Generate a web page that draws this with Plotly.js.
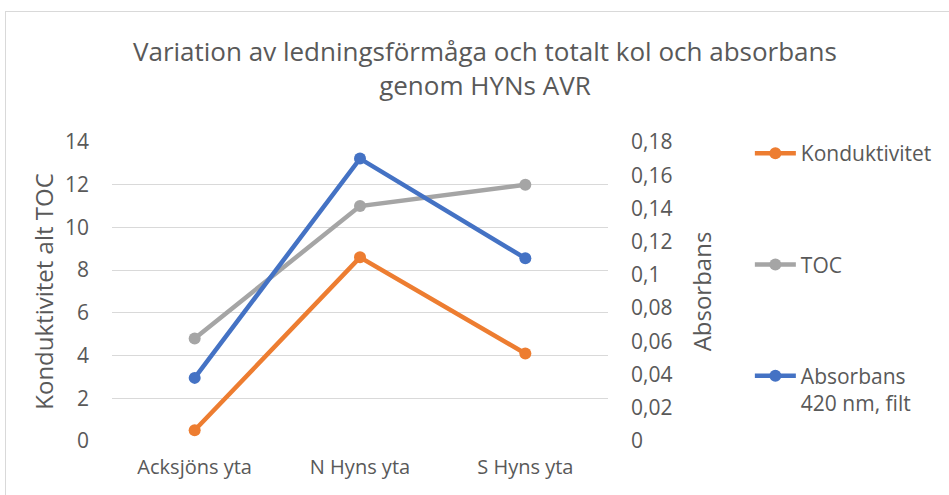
<!DOCTYPE html>
<html><head><meta charset="utf-8">
<script src="https://cdn.plot.ly/plotly-3.0.1.min.js"></script>
<style>
html,body{margin:0;padding:0;background:#fff;}
#wrap{position:relative;width:949px;height:495px;overflow:hidden;}
#frame{position:absolute;left:5px;top:11px;width:960px;height:500px;border:1px solid #D9D9D9;box-sizing:border-box;pointer-events:none;z-index:5;}
#chart{position:absolute;left:0;top:0;width:949px;height:495px;}
</style></head>
<body><div id="wrap"><div id="chart"></div><div id="frame"></div></div>
<script>
const categories = ["Acksjöns yta", "N Hyns yta", "S Hyns yta"];
const konduktivitet = [0.5, 8.6, 4.1];
const toc = [4.8, 11.0, 12.0];
const absorbans = [0.038, 0.170, 0.110];
const leftTicks = [0, 2, 4, 6, 8, 10, 12, 14];
const rightTicks = [0, 0.02, 0.04, 0.06, 0.08, 0.1, 0.12, 0.14, 0.16, 0.18];

const font = "'Open Sans', Lato, sans-serif";
const txt = "#595959";

const traces = [
  {x: categories, y: konduktivitet, name: "Konduktivitet", type: "scatter", mode: "lines+markers",
   line: {color: "#ED7D31", width: 4.5}, marker: {color: "#ED7D31", size: 12}, legendgroup: "a", yaxis: "y"},
  {x: categories, y: toc, name: "TOC", type: "scatter", mode: "lines+markers",
   line: {color: "#A5A5A5", width: 4.5}, marker: {color: "#A5A5A5", size: 12}, legendgroup: "b", yaxis: "y"},
  {x: categories, y: absorbans, name: "Absorbans<br>420 nm, filt", type: "scatter", mode: "lines+markers",
   line: {color: "#4472C4", width: 4.5}, marker: {color: "#4472C4", size: 12}, legendgroup: "c", yaxis: "y2"}
];

const layout = {
  width: 949, height: 495,
  margin: {l: 112, r: 339, t: 142, b: 54},
  paper_bgcolor: "#fff", plot_bgcolor: "#fff",
  separators: ", ",
  font: {family: font, color: txt, size: 20},
  title: {text: "Variation av ledningsförmåga och totalt kol och absorbans<br>genom HYNs AVR",
          font: {family: font, size: 26, color: txt}, x: 0.511, xanchor: "center", y: 0.877, yanchor: "middle"},
  xaxis: {type: "category", range: [-0.5, 2.5], showgrid: false, zeroline: false, showline: false,
          ticks: "", tickfont: {size: 20, color: txt}, ticklabelstandoff: 12, fixedrange: true},
  yaxis: {range: [0, 14], tickvals: leftTicks, showgrid: true, gridcolor: "#D9D9D9", gridwidth: 1,
          zeroline: false, showline: false, ticks: "", tickfont: {size: 21, color: txt}, ticklabelstandoff: 22,
          title: {text: "Konduktivitet alt TOC", font: {size: 24, color: txt}, standoff: 4}},
  yaxis2: {range: [0, 0.18], tickvals: rightTicks, overlaying: "y", side: "right", showgrid: false,
           zeroline: false, showline: false, ticks: "", tickfont: {size: 21, color: txt}, ticklabelstandoff: 22,
           title: {text: "Absorbans", font: {size: 24, color: txt}, standoff: 22}},
  showlegend: true,
  legend: {x: 1.286, xanchor: "left", y: 1.03, yanchor: "top", traceorder: "grouped", tracegroupgap: 81,
           valign: "top", maxheight: 1, font: {size: 21, color: txt}, bgcolor: "rgba(0,0,0,0)", itemwidth: 41}
};

Plotly.newPlot("chart", traces, layout, {displayModeBar: false, staticPlot: true});
</script></body></html>
